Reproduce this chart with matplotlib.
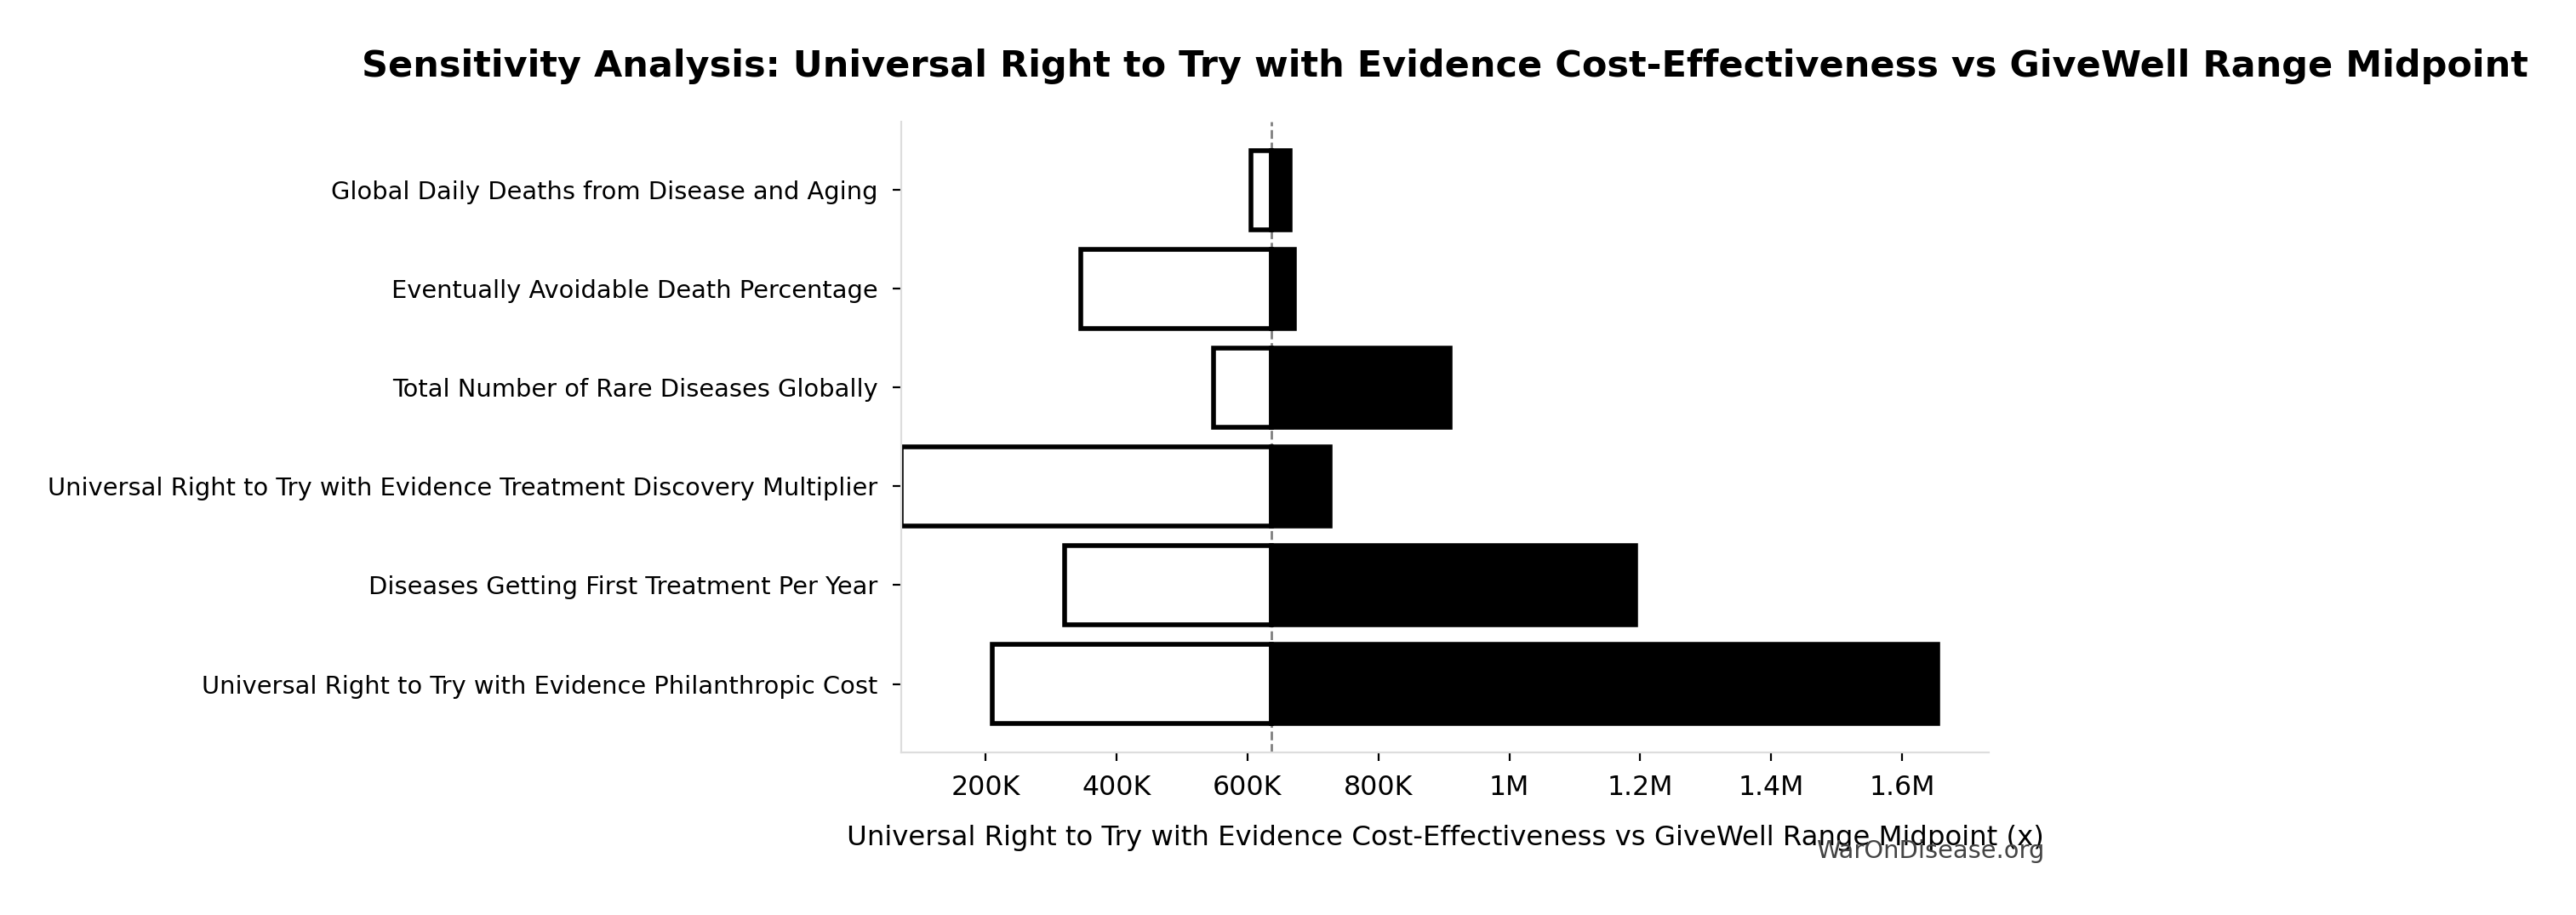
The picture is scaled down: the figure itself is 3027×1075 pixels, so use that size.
import numpy as np
import matplotlib
matplotlib.use("Agg")
import matplotlib.pyplot as plt
from matplotlib.ticker import FuncFormatter

# parameters, top of chart first
params = [
    "Global Daily Deaths from Disease and Aging",
    "Eventually Avoidable Death Percentage",
    "Total Number of Rare Diseases Globally",
    "Universal Right to Try with Evidence Treatment Discovery Multiplier",
    "Diseases Getting First Treatment Per Year",
    "Universal Right to Try with Evidence Philanthropic Cost",
]
low_vals = [606e3, 345e3, 548e3, 72e3, 321e3, 210e3]
high_vals = [665e3, 672e3, 909e3, 726e3, 1193e3, 1654e3]
base_val = 637e3

title = "Sensitivity Analysis: Universal Right to Try with Evidence Cost-Effectiveness vs GiveWell Range Midpoint"
xlabel = "Universal Right to Try with Evidence Cost-Effectiveness vs GiveWell Range Midpoint (x)"


def fmt(v, pos):
    if abs(v) >= 1e6:
        s = f"{v/1e6:.1f}".rstrip("0").rstrip(".")
        return s + "M"
    if abs(v) >= 1e3:
        return f"{v/1e3:.0f}K"
    return f"{v:.0f}"


fig = plt.figure(figsize=(15.135, 5.375), dpi=200)
ax = fig.add_axes([0.350, 0.178, 0.422, 0.689])

# bottom of chart = widest range
labels = params[::-1]
lows = np.array(low_vals[::-1])
highs = np.array(high_vals[::-1])
y = np.arange(len(labels))

ax.axvline(base_val, color="gray", linestyle="--", linewidth=1, zorder=0)
ax.barh(y, base_val - lows, left=lows, height=0.8, color="white",
        edgecolor="black", linewidth=2, zorder=2)
ax.barh(y, highs - base_val, left=base_val, height=0.8, color="black",
        edgecolor="black", linewidth=2, zorder=3)

ax.set_yticks(y)
ax.set_yticklabels(labels, fontsize=10.4)
ax.tick_params(axis="y", pad=6.5)
ax.set_xlim(72e3, 1732e3)
ax.xaxis.set_major_formatter(FuncFormatter(fmt))
ax.tick_params(axis="x", labelsize=11.4, pad=6)
ax.set_xlabel(xlabel, fontsize=11.65, labelpad=10)
ax.set_title(title, fontsize=15.5, fontweight="bold", pad=19)

for s in ["top", "right"]:
    ax.spines[s].set_visible(False)
for s in ["left", "bottom"]:
    ax.spines[s].set_color("#dddddd")

fig.text(0.7935, 0.070, "WarOnDisease.org", ha="right", va="center",
         fontsize=10.4, color="#444444")

fig.savefig("out.png", dpi=200)
